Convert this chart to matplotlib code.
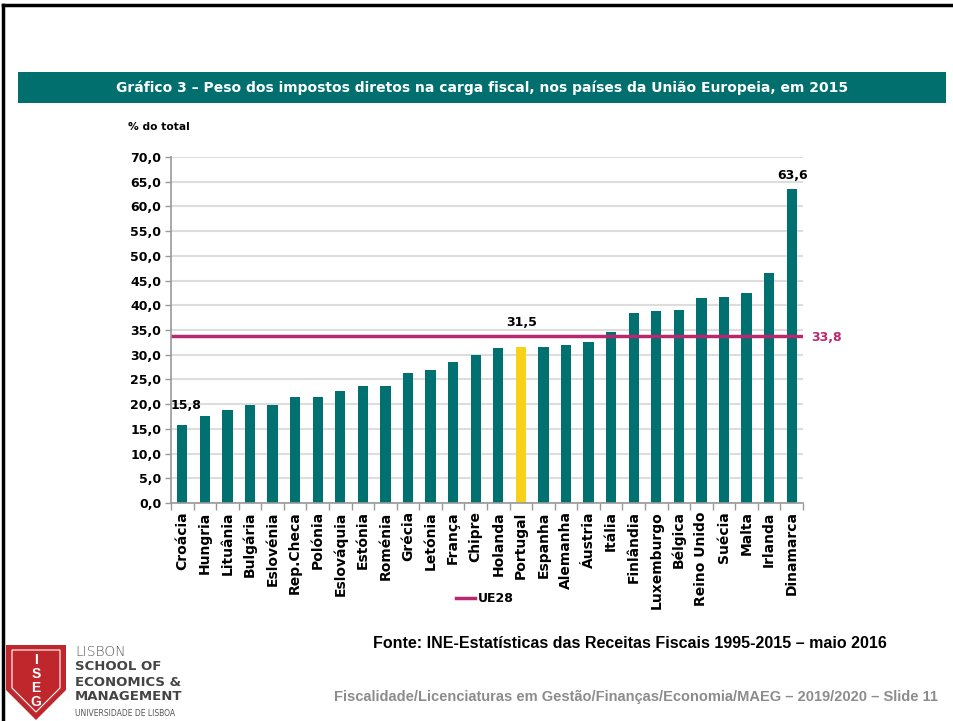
import matplotlib
matplotlib.use("Agg")
import matplotlib.pyplot as plt
from matplotlib.patches import Polygon, Rectangle
from matplotlib.lines import Line2D

countries = ["Croácia", "Hungria", "Lituânia", "Bulgária", "Eslovénia", "Rep.Checa",
             "Polónia", "Eslováquia", "Estónia", "Roménia", "Grécia", "Letónia",
             "França", "Chipre", "Holanda", "Portugal", "Espanha", "Alemanha",
             "Áustria", "Itália", "Finlândia", "Luxemburgo", "Bélgica", "Reino Unido",
             "Suécia", "Malta", "Irlanda", "Dinamarca"]
values = [15.8, 17.7, 18.9, 19.8, 19.8, 21.4, 21.4, 22.7, 23.7, 23.7, 26.2, 27.0,
          28.6, 29.9, 31.4, 31.5, 31.6, 31.9, 32.6, 34.5, 38.5, 38.9, 39.1, 41.5,
          41.7, 42.4, 46.6, 63.6]
ue28 = 33.8
highlight = "Portugal"
labelled = {"Croácia": "15,8", "Portugal": "31,5", "Dinamarca": "63,6"}
yticks = [0, 5, 10, 15, 20, 25, 30, 35, 40, 45, 50, 55, 60, 65, 70]
ytick_labels = [f"{v:.1f}".replace(".", ",") for v in yticks]

TEAL = "#007170"
YELLOW = "#F8D11A"
MAGENTA = "#B8286F"

W, H = 954, 721
fig = plt.figure(figsize=(W / 100, H / 100), dpi=100)

def fx(px):
    return px / W

def fy(py):
    return 1 - py / H

# slide border (top & left)
fig.add_artist(Line2D([fx(3), fx(954)], [fy(5), fy(5)], color="black", lw=2.5))
fig.add_artist(Line2D([fx(3), fx(3)], [fy(5), fy(721)], color="black", lw=2.5))

# title band
fig.add_artist(Rectangle((fx(18), fy(103)), fx(946) - fx(18), fy(72) - fy(103),
                         facecolor="#006F6E", edgecolor="none"))
title = fig.text(fx(482), fy(87.5), "Gráfico 3 – Peso dos impostos diretos na carga fiscal, nos países da União Europeia, em 2015",
                 ha="center", va="center", color="white", fontsize=10,
                 family="DejaVu Sans", fontweight="bold")
renderer = fig.canvas.get_renderer()
tw = title.get_window_extent(renderer).width
title.set_fontsize(10 * 731 / tw)

ax = fig.add_axes([fx(171), fy(503), fx(803) - fx(171), fy(157) - fy(503)])
x = list(range(len(countries)))
colors = [YELLOW if c == highlight else TEAL for c in countries]
ax.bar(x, values, width=0.45, color=colors, zorder=3)
ax.axhline(ue28, color=MAGENTA, lw=2.5, zorder=4, label="UE28")

ax.set_xlim(-0.5, len(countries) - 0.5)
ax.set_ylim(0, 70)
ax.set_yticks(yticks)
ax.set_yticklabels(ytick_labels, fontsize=9, fontweight="bold")
ax.set_xticks(x)
ax.set_xticklabels(countries, rotation=90, fontsize=10, fontweight="bold")
ax.tick_params(axis="x", length=0, pad=6)
ax.set_xticks([i - 0.5 for i in range(len(countries) + 1)], minor=True)
ax.tick_params(axis="x", which="minor", length=5, color="#999999", width=1)
ax.tick_params(axis="y", length=4, color="#999999", width=1, pad=3)
ax.grid(axis="y", color="#DDDDDD", lw=1.5, zorder=0)
for s in ["top", "right"]:
    ax.spines[s].set_visible(False)
for s in ["left", "bottom"]:
    ax.spines[s].set_color("#999999")
    ax.spines[s].set_linewidth(1.2)
    ax.spines[s].set_zorder(5)

offsets = {"Croácia": (2.5, 13.7), "Portugal": (0.5, 17.5), "Dinamarca": (0.5, 9.3)}
for i, c in enumerate(countries):
    if c in labelled:
        ax.annotate(labelled[c], (i, values[i]), xytext=offsets[c], textcoords="offset points",
                    ha="center", va="center", fontsize=9, fontweight="bold")
ax.annotate(f"{ue28:.1f}".replace(".", ","), (1, ue28), xycoords=("axes fraction", "data"),
            xytext=(6, -1), textcoords="offset points", ha="left", va="center",
            fontsize=9, fontweight="bold", color=MAGENTA)

fig.text(fx(128), fy(127), "% do total", ha="left", va="center", fontsize=7.7, fontweight="bold")

fig.legend(handles=[Line2D([], [], color=MAGENTA, lw=2.5)], labels=["UE28"],
           loc="center", bbox_to_anchor=(fx(485), fy(599)), frameon=False,
           handlelength=1.5, handletextpad=0.2,
           prop={"family": "DejaVu Sans", "weight": "bold", "size": 9})

fig.text(fx(630), fy(643), "Fonte: INE-Estatísticas das Receitas Fiscais 1995-2015 – maio 2016",
         ha="center", va="center", fontsize=11.5, fontweight="bold", family="Liberation Sans")
fig.text(fx(938), fy(697), "Fiscalidade/Licenciaturas em Gestão/Finanças/Economia/MAEG – 2019/2020 – Slide 11",
         ha="right", va="center", fontsize=10.5, fontweight="bold", family="Liberation Sans",
         color="#8C8C8C")

# logo shield
shield = [(6, 645), (66, 645), (66, 690), (36, 720), (6, 690)]
fig.add_artist(Polygon([(fx(a), fy(b)) for a, b in shield], closed=True,
                       facecolor="#C0272D", edgecolor="none"))
inner = [(12, 650), (60, 650), (60, 688), (36, 712), (12, 688)]
fig.add_artist(Polygon([(fx(a), fy(b)) for a, b in inner], closed=True,
                       facecolor="none", edgecolor="white", lw=0.8))
for k, letter in enumerate("ISEG"):
    fig.text(fx(36), fy(660 + k * 14), letter, ha="center", va="center", color="white",
             fontsize=10, fontweight="bold", family="Liberation Sans")
fig.text(fx(75), fy(652), "LISBON", ha="left", va="center", fontsize=10, color="#555555",
         family="DejaVu Sans", fontweight="light")
for k, line in enumerate(["SCHOOL OF", "ECONOMICS &", "MANAGEMENT"]):
    fig.text(fx(75), fy(667 + k * 15), line, ha="left", va="center", fontsize=9.5,
             color="#444444", family="DejaVu Sans", fontweight="bold")
fig.text(fx(75), fy(714), "UNIVERSIDADE DE LISBOA", ha="left", va="center", fontsize=5.5,
         color="#555555", family="DejaVu Sans")

fig.savefig("out.png", dpi=100)
